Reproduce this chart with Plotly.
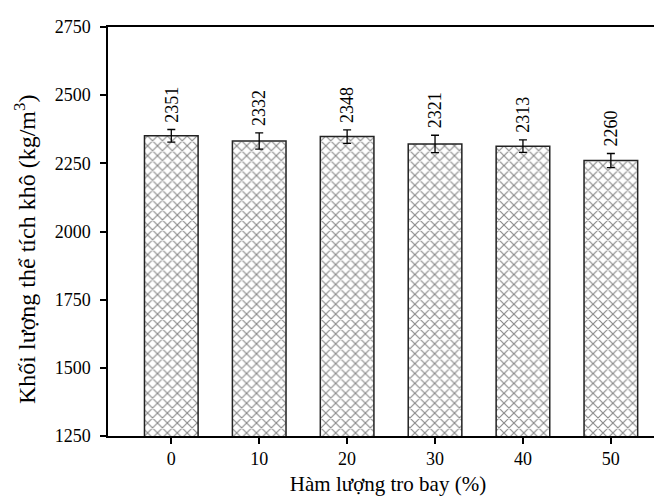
import plotly.graph_objects as go

categories = ["0", "10", "20", "30", "40", "50"]
values = [2351, 2332, 2348, 2321, 2313, 2260]
errors = [23, 30, 25, 32, 23, 26]
y_ticks = [1250, 1500, 1750, 2000, 2250, 2500, 2750]

xpos = list(range(len(categories)))
font_family = "Liberation Serif, Times New Roman, serif"

fig = go.Figure()
fig.add_trace(go.Bar(
    x=xpos, y=values, width=0.61,
    marker=dict(color="white",
                line=dict(color="#222222", width=1.5),
                pattern=dict(shape="x", size=7, solidity=0.3, fgcolor="#111111", bgcolor="white")),
    error_y=dict(type="data", array=errors, visible=True, color="black", thickness=1.3, width=4),
    showlegend=False,
))

for x, v, e in zip(xpos, values, errors):
    fig.add_annotation(x=x, y=v + e, text=str(v), textangle=-90, showarrow=False,
                       xanchor="center", yanchor="bottom", yshift=5,
                       font=dict(family=font_family, size=18, color="black"))

# y-axis title placed as a rotated annotation to match its offset position
fig.add_annotation(xref="paper", yref="paper", x=-0.148, y=0.455,
                   text="Khối lượng thể tích khô (kg/m<sup>3</sup>)", textangle=-90,
                   showarrow=False, xanchor="center", yanchor="middle",
                   font=dict(family=font_family, size=24, color="black"))

fig.update_layout(
    width=662, height=498,
    margin=dict(l=100, r=2, t=19, b=70),
    plot_bgcolor="white", paper_bgcolor="white",
    font=dict(family=font_family, size=18, color="black"),
)
fig.update_xaxes(
    range=[-0.72, 5.65], tickvals=xpos, ticktext=categories,
    showline=True, linecolor="black", linewidth=1.5, mirror=True,
    ticks="outside", ticklen=6, tickwidth=1.5, tickcolor="black",
    showgrid=False, zeroline=False,
    title=dict(text="Hàm lượng tro bay (%)", font=dict(size=21), standoff=8),
    tickfont=dict(size=18),
)
fig.update_yaxes(
    range=[1250, 2750], tickvals=y_ticks,
    showline=True, linecolor="black", linewidth=1.5,
    ticks="outside", ticklen=6, tickwidth=1.5, tickcolor="black",
    showgrid=False, zeroline=False,
    tickfont=dict(size=18), ticklabelstandoff=6,
)

fig.write_html("out.html")
